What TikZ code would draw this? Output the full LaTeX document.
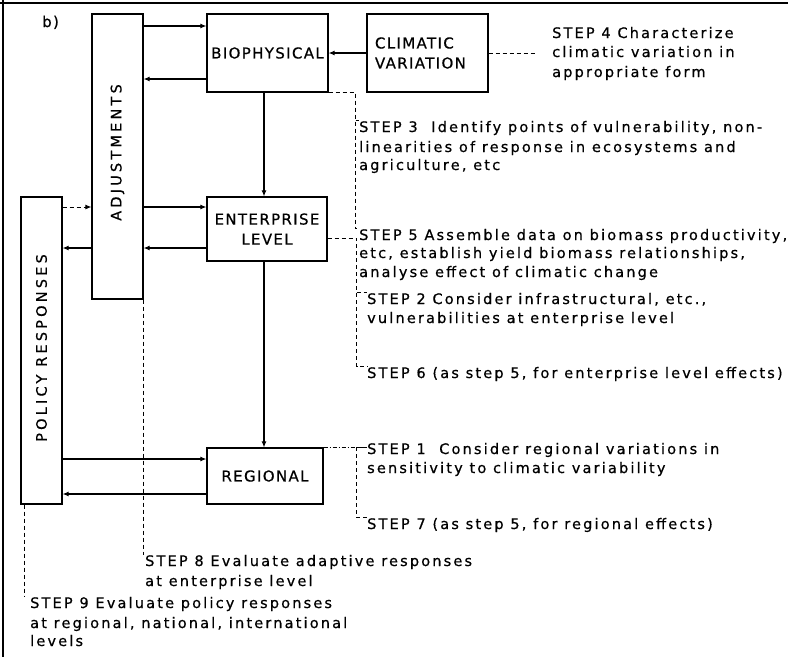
\documentclass[tikz,border=0pt]{standalone}
\usepackage{fontspec}
\setmainfont{DejaVu Sans}
\newfontfamily\stepfam{DejaVu Sans}[LetterSpace=15,FakeBold=0.6]
\newfontfamily\boxfam{DejaVu Sans}[LetterSpace=9,FakeBold=0.6]
\newfontfamily\rotfam{DejaVu Sans}[LetterSpace=22,FakeBold=0.6]
\newcommand\stepfont{\stepfam\fontsize{14.5}{19}\selectfont}
\newcommand\boxfont{\boxfam\fontsize{15}{20}\selectfont}
\newcommand\rotfont{\rotfam\fontsize{14.5}{16}\selectfont}
\usetikzlibrary{arrows.meta,calc}
\begin{document}
\begin{tikzpicture}[x=1pt,y=-1pt,
  box/.style={draw,line width=1.2pt,inner sep=0pt,font=\boxfont},
  rotlab/.style={rotate=90,inner sep=0pt,font=\rotfont},
  txt/.style={anchor=base west,inner sep=0pt,font=\stepfont},
  arr/.style={line width=1.1pt,-{Latex[length=6pt,width=5pt]}},
  dsh/.style={line width=0.9pt,dash pattern=on 4pt off 3pt},
  dshdot/.style={line width=0.9pt,dash pattern=on 4pt off 2pt on 1pt off 2pt}]
\useasboundingbox (0,0) rectangle (788,657);
% frame
\draw[line width=1.6pt] (0,3) -- (788,3);
\draw[line width=1.6pt] (3,0) -- (3,657);
\node[txt,font=\boxfont] (lb) at (42,27) {b)};
% boxes
\node[box,minimum width=51,minimum height=285] (adj) at (117.5,156.5) {};
\node[rotlab] (adjl) at (117.5,152.5) {ADJUSTMENTS};
\node[box,minimum width=41,minimum height=307] (pol) at (41.5,350.5) {};
\node[rotlab] (poll) at (41.5,348) {POLICY RESPONSES};
\node[box,minimum width=121,minimum height=78] (bio) at (267.5,53) {BIOPHYSICAL};
\node[box,minimum width=121,minimum height=78,inner xsep=8pt,text width=105pt,align=left] (clim) at (427.5,53) {CLIMATIC\\VARIATION};
\node[box,minimum width=120,minimum height=64,align=center] (ent) at (267,229) {ENTERPRISE\\LEVEL};
\node[box,minimum width=116,minimum height=56] (reg) at (265,476) {REGIONAL};
% rows
\coordinate (r1) at (0,26);
\coordinate (r3) at (0,79);
\coordinate (r4) at (0,207);
\coordinate (r5) at (0,248);
\coordinate (r6) at (0,459);
\coordinate (r7) at (0,494);
\coordinate (cx) at (264,0);
% solid arrows
\draw[arr] (adj.east |- r1) -- (bio.west |- r1);
\draw[arr] (clim.west) -- (bio.east);
\draw[arr] (bio.west |- r3) -- (adj.east |- r3);
\draw[arr] (bio.south -| cx) -- (ent.north -| cx);
\draw[arr] (adj.east |- r4) -- (ent.west |- r4);
\draw[arr] (ent.west |- r5) -- (adj.east |- r5);
\draw[arr] (adj.west |- r5) -- (pol.east |- r5);
\draw[arr,dsh] (pol.east |- r4) -- (adj.west |- r4);
\draw[arr] (ent.south -| cx) -- (reg.north -| cx);
\draw[arr] (pol.east |- r6) -- (reg.west |- r6);
\draw[arr] (reg.west |- r7) -- (pol.east |- r7);
% step texts
\node[txt] (s4a) at (552,38) {STEP 4 Characterize};
\node[txt] (s4b) at (552,57) {climatic variation in};
\node[txt] (s4c) at (552,77) {appropriate form};
\node[txt] (s3a) at (359,132) {STEP 3\ \ Identify points of vulnerability, non-};
\node[txt] (s3b) at (359,152) {linearities of response in ecosystems and};
\node[txt] (s3c) at (359,170) {agriculture, etc};
\node[txt] (s5a) at (359,240) {STEP 5 Assemble data on biomass productivity,};
\node[txt] (s5b) at (359,258) {etc, establish yield biomass relationships,};
\node[txt] (s5c) at (359,277) {analyse effect of climatic change};
\node[txt] (s2a) at (367,304) {STEP 2 Consider infrastructural, etc.,};
\node[txt] (s2b) at (367,323) {vulnerabilities at enterprise level};
\node[txt] (s6a) at (367,378) {STEP 6 (as step 5, for enterprise level effects)};
\node[txt] (s1a) at (367,454) {STEP 1\ \ Consider regional variations in};
\node[txt] (s1b) at (367,473) {sensitivity to climatic variability};
\node[txt] (s7a) at (367,529) {STEP 7 (as step 5, for regional effects)};
\node[txt] (s8a) at (145,566) {STEP 8 Evaluate adaptive responses};
\node[txt] (s8b) at (145,586) {at enterprise level};
\node[txt] (s9a) at (30,608) {STEP 9 Evaluate policy responses};
\node[txt] (s9b) at (30,628) {at regional, national, international};
\node[txt] (s9c) at (30,646) {levels};
% dashed leaders
\draw[dsh] (clim.east) -- ($(s4a.west |- clim.east)+(-17,0)$);
\draw[dsh] (bio.south east) -- ++(27,0) coordinate (k3) -- (k3 |- s5a.north west) -- (s5a.north west);
\draw[dsh] (k3 |- s3a.north west) -- (s3a.north west);
\draw[dsh] ($(ent.east)+(0,9)$) -- ++(29,0) coordinate (k2) -- (k2 |- s6a.north west) -- (s6a.north west);
\draw[dsh] (k2 |- s2a.north west) -- (s2a.north west);
\draw[dshdot] (reg.north east) -- ++(33,0) coordinate (k1);
\draw[dsh] (k1) -- (k1 |- s7a.north west) -- (s7a.north west);
\draw[line width=0.9pt] (k1) -- (k1 -| s1a.west);
\draw[dsh] (adj.south east) -- (adj.south east |- s8a.north west);
\draw[dsh] ($(pol.south west)+(4,0)$) coordinate (k9) -- (k9 |- s9a.north west);
\end{tikzpicture}
\end{document}
